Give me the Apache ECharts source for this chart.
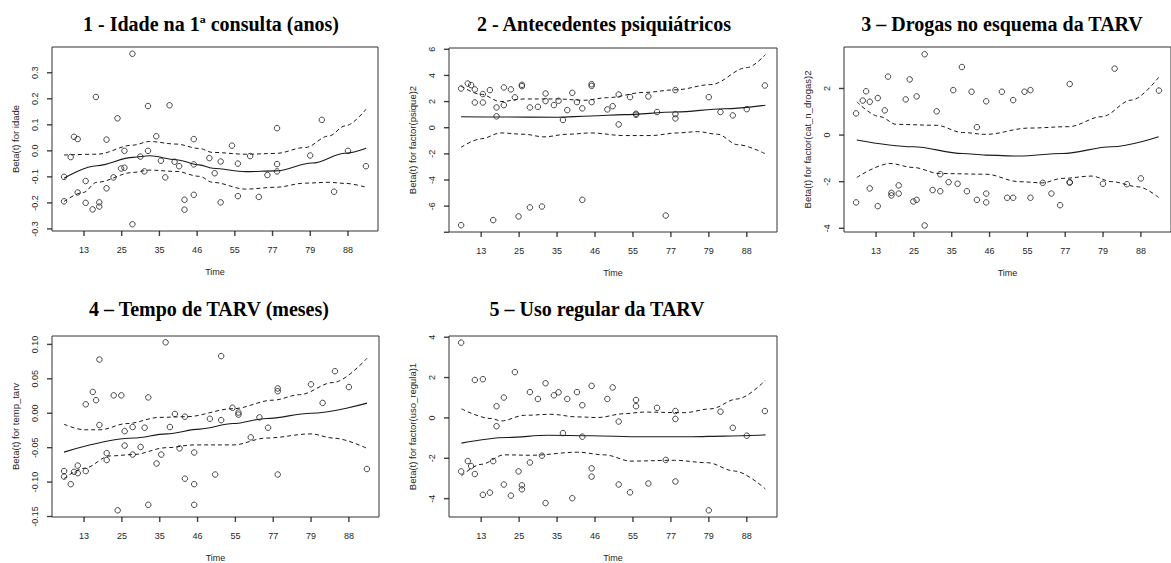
<!DOCTYPE html>
<html><head><meta charset="utf-8">
<script src="https://cdn.jsdelivr.net/npm/echarts@6/dist/echarts.min.js"></script>
<style>html,body{margin:0;padding:0;background:#fff}#c{width:1171px;height:563px}</style>
</head><body><div id="c"></div>
<script>
// ---- data ----
const xTickPos = [1, 2, 3, 4, 5, 6, 7, 8];
const xTickLabels = ['13', '25', '35', '46', '55', '77', '79', '88'];
// transformed event times (shared by all panels)
const eventPos = [
  0.472, 0.472, 0.648, 0.736, 0.833, 0.833, 1.044, 1.044, 1.229, 1.317,
  1.405, 1.405, 1.598, 1.598, 1.783, 1.888, 1.985, 2.073, 2.073, 2.284,
  2.284, 2.495, 2.601, 2.697, 2.697, 2.917, 3.040, 3.155, 3.269, 3.401,
  3.524, 3.665, 3.665, 3.911, 3.911, 3.911, 4.325, 4.465, 4.624, 4.624,
  4.923, 5.081, 5.081, 5.406, 5.635, 5.864, 6.119, 6.119, 6.119, 6.998,
  7.306, 7.631, 7.999, 8.476
];
const titles = [
  '1 - Idade na 1ª consulta (anos)',
  '2 - Antecedentes psiquiátricos',
  '3 – Drogas no esquema da TARV',
  '4 – Tempo de TARV (meses)',
  '5 – Uso regular da TARV'
];
const yNames = [
  'Beta(t) for idade',
  'Beta(t) for factor(psique)2',
  'Beta(t) for factor(cat_n_drogas)2',
  'Beta(t) for temp_tarv',
  'Beta(t) for factor(uso_regula)1'
];
const xName = 'Time';

const beta1 = [
  -0.100, -0.194, -0.024, 0.054, 0.045, -0.160, -0.116, -0.200, -0.225, 0.207,
  -0.198, -0.214, 0.043, -0.144, -0.102, 0.125, -0.068, -0.065, 0.000, 0.373,
  -0.282, -0.022, -0.079, 0.172, 0.000, 0.056, -0.038, -0.102, 0.175, -0.042,
  -0.059, -0.188, -0.226, 0.045, -0.052, -0.169, -0.028, -0.086, -0.041, -0.198,
  0.020, -0.049, -0.174, -0.020, -0.177, -0.093, 0.087, -0.051, -0.079, -0.018,
  0.119, -0.157, 0.000, -0.059
];
const beta2 = [
  3.00, -7.46, 3.38, 3.26, 2.93, 1.93, 2.57, 1.93, 2.88, -7.07,
  1.55, 0.87, 3.08, 1.73, 2.93, 2.32, -6.79, 3.28, 3.18, 1.55,
  -6.10, 1.60, -6.03, 2.62, 2.04, 1.73, 2.06, 0.59, 1.35, 2.67,
  1.96, 1.48, -5.52, 3.33, 3.20, 1.96, 1.40, 1.65, 2.54, 0.25,
  2.34, 1.07, 0.99, 2.39, 1.20, -6.72, 2.88, 1.04, 0.71, 2.34,
  1.20, 0.94, 1.42, 3.23
];
const beta3 = [
  0.93, -2.89, 1.48, 1.88, 1.43, -2.29, 1.59, -3.05, 1.06, 2.51,
  -2.48, -2.59, -2.16, -2.51, 1.53, 2.39, -2.85, 1.66, -2.78, 3.47,
  -3.88, -2.36, 1.02, -1.68, -2.41, -2.02, 1.93, -2.09, 2.92, -2.41,
  1.86, 0.34, -2.78, 1.45, -2.51, -2.89, 1.86, -2.69, 1.50, -2.69,
  1.86, 1.93, -2.69, -2.05, -2.51, -3.01, 2.19, -2.02, -2.04, -2.09,
  2.85, -2.11, -1.86, 1.91
];
const beta4 = [
  -0.084, -0.092, -0.103, -0.085, -0.076, -0.087, 0.013, -0.084, 0.031, 0.019,
  0.078, -0.017, -0.058, -0.068, 0.026, -0.141, 0.026, -0.026, -0.047, -0.020,
  -0.060, -0.049, -0.021, 0.023, -0.133, -0.073, -0.060, 0.103, -0.020, -0.001,
  -0.051, -0.005, -0.095, -0.057, -0.103, -0.133, -0.008, -0.089, 0.083, -0.010,
  0.008, 0.001, -0.002, -0.035, -0.006, -0.021, 0.036, 0.032, -0.089, 0.042,
  0.015, 0.061, 0.038, -0.081
];
const beta5 = [
  3.73, -2.65, -2.14, -2.39, 1.88, -2.78, 1.92, -3.81, -3.70, -2.14,
  0.58, -0.41, 1.01, -3.30, -3.85, 2.27, -2.65, -3.34, -3.54, 1.28,
  -2.21, 0.94, -1.87, 1.72, -4.22, 1.12, 1.27, -0.75, 0.94, -3.98,
  1.28, 0.63, -0.93, 1.59, -2.50, -2.91, 0.94, 1.51, -0.18, -3.30,
  -3.69, 0.89, 0.58, -3.25, 0.50, -2.08, 0.34, -0.05, -3.15, -4.58,
  0.31, -0.49, -0.88, 0.34
];

// smoothed beta(t) and confidence bands, read at selected x positions
const fit1 = [[0.47,-0.105],[1.34,-0.057],[2.3,-0.025],[2.74,-0.019],[3.44,-0.034],[4.06,-0.054],[4.41,-0.067],[5.29,-0.080],[6.08,-0.077],[7.05,-0.047],[7.93,-0.009],[8.48,0.010]];
const hi1 = [[0.47,-0.016],[1.34,-0.013],[2.3,0.022],[2.74,0.036],[3.44,0.026],[4.06,0.009],[4.41,-0.006],[5.29,-0.013],[6.08,-0.010],[6.87,0.013],[7.49,0.057],[7.93,0.096],[8.48,0.160]];
const lo1 = [[0.47,-0.195],[0.98,-0.160],[1.34,-0.121],[2.3,-0.083],[2.74,-0.074],[3.44,-0.079],[4.06,-0.098],[4.41,-0.121],[5.29,-0.147],[6.08,-0.140],[6.87,-0.124],[7.49,-0.121],[7.93,-0.125],[8.48,-0.140]];

const fit2 = [[0.47,0.84],[1.5,0.82],[3.0,0.80],[3.89,0.90],[4.76,1.00],[6.13,1.20],[7.4,1.45],[8.49,1.72]];
const hi2 = [[0.47,3.18],[1.0,2.55],[1.51,2.00],[2.13,2.20],[3.0,2.20],[3.71,2.10],[4.33,2.30],[5.29,2.70],[6.13,2.90],[7.05,3.30],[8.01,4.60],[8.49,5.60]];
const lo2 = [[0.47,-1.50],[1.0,-0.85],[1.51,-0.40],[2.13,-0.50],[2.65,-0.70],[3.27,-0.50],[3.89,-0.40],[4.76,-0.60],[5.47,-0.60],[6.17,-0.40],[6.7,-0.30],[7.23,-0.50],[7.76,-1.30],[8.49,-2.00]];

const fit3 = [[0.49,-0.21],[1.98,-0.50],[3.29,-0.79],[3.9,-0.86],[4.78,-0.90],[5.92,-0.79],[7.23,-0.50],[8.47,-0.07]];
const hi3 = [[0.49,1.43],[1.1,0.79],[1.54,0.46],[2.59,0.42],[3.29,0.11],[3.9,0.03],[5.04,0.30],[6.09,0.36],[6.97,0.79],[7.75,1.50],[8.47,2.48]];
const lo3 = [[0.49,-1.82],[1.37,-1.22],[1.98,-1.39],[2.68,-1.65],[3.9,-1.68],[4.78,-2.00],[5.39,-2.05],[5.92,-1.86],[6.7,-1.76],[7.23,-2.00],[7.93,-2.22],[8.47,-2.68]];

const fit4 = [[0.47,-0.0565],[2.3,-0.036],[3.18,-0.030],[4.06,-0.023],[4.94,-0.015],[5.82,-0.0076],[7.0,0.0],[8.48,0.0147]];
const hi4 = [[0.47,-0.016],[1.0,-0.024],[1.42,-0.024],[2.13,-0.015],[3.0,-0.006],[3.71,-0.005],[4.94,0.0066],[6.0,0.019],[6.7,0.027],[7.58,0.0446],[8.48,0.080]];
const lo4 = [[0.47,-0.095],[1.0,-0.080],[1.69,-0.062],[2.3,-0.060],[3.18,-0.050],[3.91,-0.046],[4.94,-0.046],[5.82,-0.036],[7.0,-0.030],[7.58,-0.036],[8.48,-0.051]];

const fit5 = [[0.48,-1.25],[1.7,-0.97],[2.75,-0.86],[3.9,-0.88],[5.21,-0.93],[6.53,-0.93],[7.4,-0.90],[8.49,-0.84]];
const hi5 = [[0.48,0.45],[1.26,-0.03],[1.53,-0.15],[2.14,0.13],[2.84,0.18],[3.54,0.05],[4.07,0.02],[4.77,0.21],[5.3,0.29],[6.35,0.26],[7.05,0.45],[7.75,0.94],[8.49,1.87]];
const lo5 = [[0.48,-2.87],[1.0,-2.30],[1.61,-1.83],[2.32,-1.85],[3.54,-1.70],[4.25,-1.83],[4.95,-2.14],[6.09,-2.10],[6.97,-2.22],[7.67,-2.63],[8.49,-3.52]];

const yTicks1 = [-0.3, -0.2, -0.1, 0, 0.1, 0.2, 0.3];
const yTicks2 = [-8, -6, -4, -2, 0, 2, 4, 6];
const yTicks3 = [-4, -2, 0, 2];
const yTicks4 = [-0.15, -0.10, -0.05, 0, 0.05, 0.10];
const yTicks5 = [-4, -2, 0, 2, 4];
const yRange1 = [-0.308, 0.399];
const yRange2 = [-7.98, 6.10];
const yRange3 = [-4.16, 3.78];
const yRange4 = [-0.1507, 0.1122];
const yRange5 = [-4.91, 4.06];
const xRange = [0.152, 8.796];

// ---- layout ----
const grids = [
  {left: 52, top: 47, width: 326, height: 184},
  {left: 449, top: 48, width: 328, height: 184},
  {left: 844, top: 47, width: 328, height: 185},
  {left: 52, top: 336, width: 327, height: 184},
  {left: 449, top: 336, width: 328, height: 184}
];
const titlePos = [[211, 24], [604, 24], [1002, 24], [209, 309], [597, 309]];
const TICK_LEN = 5;

const panels = [
  {beta: beta1, fit: fit1, hi: hi1, lo: lo1, ticks: yTicks1, range: yRange1, dec: 1},
  {beta: beta2, fit: fit2, hi: hi2, lo: lo2, ticks: yTicks2, range: yRange2, dec: 0},
  {beta: beta3, fit: fit3, hi: hi3, lo: lo3, ticks: yTicks3, range: yRange3, dec: 0},
  {beta: beta4, fit: fit4, hi: hi4, lo: lo4, ticks: yTicks4, range: yRange4, dec: 2},
  {beta: beta5, fit: fit5, hi: hi5, lo: lo5, ticks: yTicks5, range: yRange5, dec: 0}
];

const SANS = 'Liberation Sans, Arial, sans-serif';
const ink = '#1a1a1a';
const textInk = '#262626';

const option = {
  animation: false,
  backgroundColor: '#ffffff',
  title: titles.map((t, i) => ({
    text: t, left: titlePos[i][0], top: titlePos[i][1], padding: 0,
    textAlign: 'center', textVerticalAlign: 'middle',
    textStyle: {fontFamily: 'Liberation Serif, Times New Roman, serif', fontWeight: 'bold', fontSize: 20, color: '#000'}
  })),
  grid: grids.map(g => Object.assign({show: true, borderColor: '#333', borderWidth: 1, backgroundColor: 'transparent', containLabel: false}, g)),
  xAxis: panels.map((p, i) => ({
    gridIndex: i, type: 'value', min: xRange[0], max: xRange[1], position: 'bottom',
    axisLine: {show: false, onZero: false}, splitLine: {show: false},
    axisTick: {show: false},
    axisLabel: {customValues: xTickPos, formatter: v => xTickLabels[Math.round(v) - 1], fontSize: 9, color: textInk, margin: 14, fontFamily: SANS},
    name: xName, nameLocation: 'middle', nameGap: 36,
    nameTextStyle: {fontSize: 9, color: textInk, fontFamily: SANS}
  })),
  yAxis: panels.map((p, i) => ({
    gridIndex: i, type: 'value', min: p.range[0], max: p.range[1], position: 'left',
    axisLine: {show: false, onZero: false}, splitLine: {show: false},
    axisTick: {show: false},
    axisLabel: {customValues: p.ticks, rotate: 90, formatter: v => (Math.abs(v) < 1e-9 ? 0 : v).toFixed(p.dec), fontSize: 9, color: textInk, margin: 13, fontFamily: SANS},
    name: yNames[i], nameLocation: 'middle', nameGap: 32, nameRotate: 90,
    nameTextStyle: {fontSize: 9.5, color: textInk, fontFamily: SANS}
  })),
  series: []
};

panels.forEach((p, i) => {
  option.series.push({
    type: 'scatter', xAxisIndex: i, yAxisIndex: i, silent: true,
    data: eventPos.map((x, k) => [x, p.beta[k]]),
    symbol: 'circle', symbolSize: 5.5,
    itemStyle: {color: 'rgba(0,0,0,0)', borderColor: ink, borderWidth: 1}
  });
  option.series.push({
    type: 'line', xAxisIndex: i, yAxisIndex: i, silent: true, data: p.fit,
    symbol: 'none', showSymbol: false, smooth: 0.35, smoothMonotone: 'x',
    lineStyle: {color: ink, width: 1.1, type: 'solid'}
  });
  [p.hi, p.lo].forEach(band => option.series.push({
    type: 'line', xAxisIndex: i, yAxisIndex: i, silent: true, data: band,
    symbol: 'none', showSymbol: false, smooth: 0.35, smoothMonotone: 'x',
    lineStyle: {color: ink, width: 1, type: [4, 3]}
  }));
  // tick marks: short rect symbols placed at the tick values on the panel edges, offset outward
  option.series.push({
    type: 'scatter', xAxisIndex: i, yAxisIndex: i, silent: true, clip: false, z: 20,
    data: xTickPos.map(v => [v, p.range[0]]),
    symbol: 'rect', symbolSize: [1.4, TICK_LEN], symbolOffset: [0, TICK_LEN / 2],
    itemStyle: {color: '#111', borderWidth: 0}
  });
  option.series.push({
    type: 'scatter', xAxisIndex: i, yAxisIndex: i, silent: true, clip: false, z: 20,
    data: p.ticks.map(v => [xRange[0], v]),
    symbol: 'rect', symbolSize: [TICK_LEN, 1.4], symbolOffset: [-TICK_LEN / 2, 0],
    itemStyle: {color: '#111', borderWidth: 0}
  });
});

const chart = echarts.init(document.getElementById('c'), null, {renderer: 'svg', width: 1171, height: 563});
chart.setOption(option);
</script>
</body></html>
